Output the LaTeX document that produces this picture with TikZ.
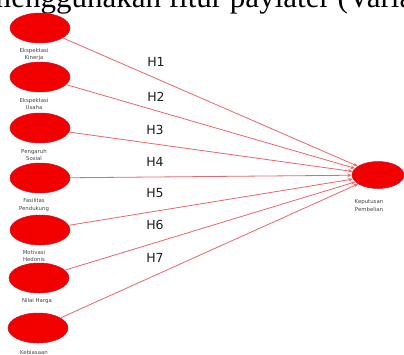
\documentclass[tikz,border=0pt]{standalone}
\usepackage{fontspec}
\setmainfont{Liberation Serif}
\newfontfamily\lblfont{DejaVu Sans}
\usetikzlibrary{arrows.meta,shapes.geometric}
\definecolor{nodered}{RGB}{242,0,0}
\definecolor{nodeedge}{RGB}{200,20,40}
\definecolor{linered}{RGB}{238,100,105}
\definecolor{lblgray}{RGB}{70,70,70}
\definecolor{hgray}{RGB}{30,30,30}
\begin{document}
\begin{tikzpicture}[x=1pt,y=-1pt,
  latent/.style={ellipse, draw=nodeedge, line width=0.5pt, fill=nodered, minimum width=60pt, minimum height=30pt, inner sep=0pt},
  target/.style={ellipse, draw=nodeedge, line width=0.5pt, fill=nodered, minimum width=52pt, minimum height=27pt, inner sep=0pt},
  lbltext/.style={align=center, text=lblgray, inner sep=0pt, font=\lblfont\fontsize{5.4}{7.2}\selectfont},
  hlabel/.style={text=hgray, inner sep=0pt, font=\lblfont\fontsize{12.5}{13}\selectfont},
  conn/.style={draw=linered, line width=0.8pt, -{Stealth[length=4.5pt,width=3.5pt]}}]
\useasboundingbox (0,0) rectangle (404,354);
\clip (0,0) rectangle (404,354);
\fill[white] (0,0) rectangle (404,354);
\node[anchor=base west, inner sep=0pt, font=\fontsize{31}{31}\selectfont] (title) at (-13,7) {menggunakan fitur paylater (Variabel};
% latent nodes
\node[latent] (e1) at (40,28) {};
\node[latent] (e2) at (40,77) {};
\node[latent] (e3) at (40,128) {};
\node[latent] (e4) at (40,178) {};
\node[latent] (e5) at (40,230) {};
\node[latent] (e6) at (39,278) {};
\node[latent] (e7) at (38,328) {};
\node[target] (k) at (378,175) {};
% labels
\node[lbltext] (l1) at (34,54.5) {Ekspektasi\\Kinerja};
\node[lbltext] (l2) at (34,104) {Ekspektasi\\Usaha};
\node[lbltext] (l3) at (34,155) {Pengaruh\\Sosial};
\node[lbltext] (l4) at (34,205) {Fasilitas\\Pendukung};
\node[lbltext] (l5) at (34,256) {Motivasi\\Hedonis};
\node[lbltext] (l6) at (37,301) {Nilai Harga};
\node[lbltext] (l7) at (34,352) {Kebiasaan};
\node[lbltext] (lk) at (369,205.5) {Keputusan\\Pembelian};
% connectors
\draw[conn] (e1) -- (k);
\draw[conn] (e2) -- (k);
\draw[conn] (e3) -- (k);
\draw[conn] (e4) -- (k);
\draw[conn] (e5) -- (k);
\draw[conn] (e6) -- (k);
\draw[conn] (e7) -- (k);
% hypothesis labels
\node[hlabel] (h1) at (156,62) {H1};
\node[hlabel] (h2) at (156,97) {H2};
\node[hlabel] (h3) at (155,130) {H3};
\node[hlabel] (h4) at (155,162) {H4};
\node[hlabel] (h5) at (155,193) {H5};
\node[hlabel] (h6) at (155,225) {H6};
\node[hlabel] (h7) at (155,258) {H7};
\end{tikzpicture}
\end{document}
